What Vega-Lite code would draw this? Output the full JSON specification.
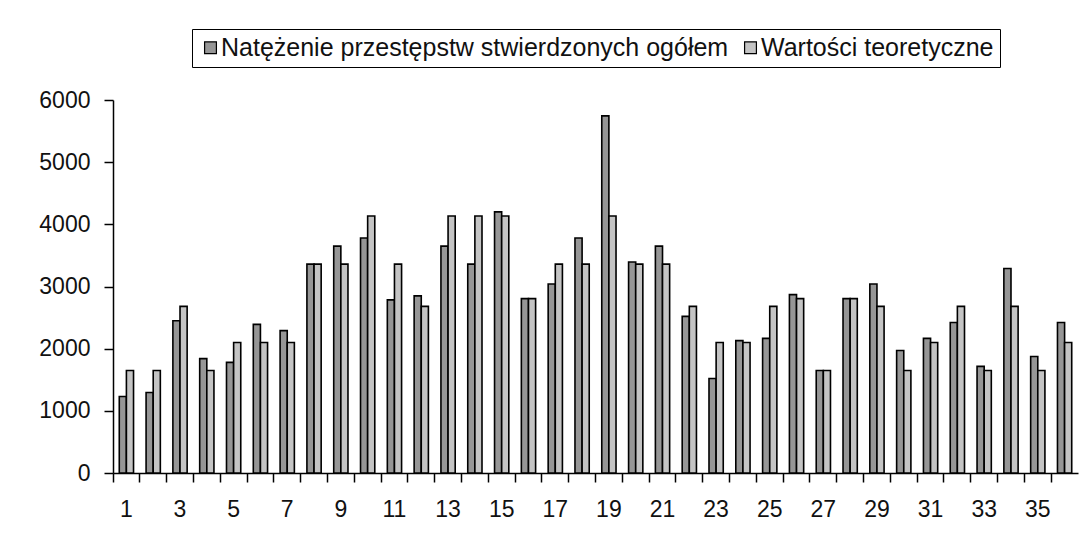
{
  "$schema": "https://vega.github.io/schema/vega-lite/v6.json",
  "autosize": "none",
  "width": 965,
  "height": 373,
  "padding": {"left": 113, "top": 100, "right": 8, "bottom": 70},
  "background": "white",
  "config": {
    "view": {"stroke": null},
    "font": "Liberation Sans",
    "axis": {"labelFont": "Liberation Sans", "labelColor": "#111", "domainColor": "black", "tickColor": "black", "domainWidth": 1.5, "tickWidth": 1.5, "grid": false, "title": null}
  },
  "data": {
    "values": [
      {"nr": 1, "seria": "Natężenie przestępstw stwierdzonych ogółem", "wartosc": 1230},
      {"nr": 1, "seria": "Wartości teoretyczne", "wartosc": 1650},
      {"nr": 2, "seria": "Natężenie przestępstw stwierdzonych ogółem", "wartosc": 1295},
      {"nr": 2, "seria": "Wartości teoretyczne", "wartosc": 1650},
      {"nr": 3, "seria": "Natężenie przestępstw stwierdzonych ogółem", "wartosc": 2450},
      {"nr": 3, "seria": "Wartości teoretyczne", "wartosc": 2680},
      {"nr": 4, "seria": "Natężenie przestępstw stwierdzonych ogółem", "wartosc": 1840},
      {"nr": 4, "seria": "Wartości teoretyczne", "wartosc": 1650},
      {"nr": 5, "seria": "Natężenie przestępstw stwierdzonych ogółem", "wartosc": 1780},
      {"nr": 5, "seria": "Wartości teoretyczne", "wartosc": 2100},
      {"nr": 6, "seria": "Natężenie przestępstw stwierdzonych ogółem", "wartosc": 2390},
      {"nr": 6, "seria": "Wartości teoretyczne", "wartosc": 2100},
      {"nr": 7, "seria": "Natężenie przestępstw stwierdzonych ogółem", "wartosc": 2290},
      {"nr": 7, "seria": "Wartości teoretyczne", "wartosc": 2100},
      {"nr": 8, "seria": "Natężenie przestępstw stwierdzonych ogółem", "wartosc": 3360},
      {"nr": 8, "seria": "Wartości teoretyczne", "wartosc": 3360},
      {"nr": 9, "seria": "Natężenie przestępstw stwierdzonych ogółem", "wartosc": 3650},
      {"nr": 9, "seria": "Wartości teoretyczne", "wartosc": 3360},
      {"nr": 10, "seria": "Natężenie przestępstw stwierdzonych ogółem", "wartosc": 3780},
      {"nr": 10, "seria": "Wartości teoretyczne", "wartosc": 4135},
      {"nr": 11, "seria": "Natężenie przestępstw stwierdzonych ogółem", "wartosc": 2785},
      {"nr": 11, "seria": "Wartości teoretyczne", "wartosc": 3360},
      {"nr": 12, "seria": "Natężenie przestępstw stwierdzonych ogółem", "wartosc": 2850},
      {"nr": 12, "seria": "Wartości teoretyczne", "wartosc": 2680},
      {"nr": 13, "seria": "Natężenie przestępstw stwierdzonych ogółem", "wartosc": 3650},
      {"nr": 13, "seria": "Wartości teoretyczne", "wartosc": 4135},
      {"nr": 14, "seria": "Natężenie przestępstw stwierdzonych ogółem", "wartosc": 3360},
      {"nr": 14, "seria": "Wartości teoretyczne", "wartosc": 4135},
      {"nr": 15, "seria": "Natężenie przestępstw stwierdzonych ogółem", "wartosc": 4200},
      {"nr": 15, "seria": "Wartości teoretyczne", "wartosc": 4135},
      {"nr": 16, "seria": "Natężenie przestępstw stwierdzonych ogółem", "wartosc": 2805},
      {"nr": 16, "seria": "Wartości teoretyczne", "wartosc": 2805},
      {"nr": 17, "seria": "Natężenie przestępstw stwierdzonych ogółem", "wartosc": 3040},
      {"nr": 17, "seria": "Wartości teoretyczne", "wartosc": 3360},
      {"nr": 18, "seria": "Natężenie przestępstw stwierdzonych ogółem", "wartosc": 3780},
      {"nr": 18, "seria": "Wartości teoretyczne", "wartosc": 3360},
      {"nr": 19, "seria": "Natężenie przestępstw stwierdzonych ogółem", "wartosc": 5745},
      {"nr": 19, "seria": "Wartości teoretyczne", "wartosc": 4135},
      {"nr": 20, "seria": "Natężenie przestępstw stwierdzonych ogółem", "wartosc": 3395},
      {"nr": 20, "seria": "Wartości teoretyczne", "wartosc": 3360},
      {"nr": 21, "seria": "Natężenie przestępstw stwierdzonych ogółem", "wartosc": 3650},
      {"nr": 21, "seria": "Wartości teoretyczne", "wartosc": 3360},
      {"nr": 22, "seria": "Natężenie przestępstw stwierdzonych ogółem", "wartosc": 2520},
      {"nr": 22, "seria": "Wartości teoretyczne", "wartosc": 2680},
      {"nr": 23, "seria": "Natężenie przestępstw stwierdzonych ogółem", "wartosc": 1520},
      {"nr": 23, "seria": "Wartości teoretyczne", "wartosc": 2100},
      {"nr": 24, "seria": "Natężenie przestępstw stwierdzonych ogółem", "wartosc": 2130},
      {"nr": 24, "seria": "Wartości teoretyczne", "wartosc": 2100},
      {"nr": 25, "seria": "Natężenie przestępstw stwierdzonych ogółem", "wartosc": 2165},
      {"nr": 25, "seria": "Wartości teoretyczne", "wartosc": 2680},
      {"nr": 26, "seria": "Natężenie przestępstw stwierdzonych ogółem", "wartosc": 2870},
      {"nr": 26, "seria": "Wartości teoretyczne", "wartosc": 2805},
      {"nr": 27, "seria": "Natężenie przestępstw stwierdzonych ogółem", "wartosc": 1650},
      {"nr": 27, "seria": "Wartości teoretyczne", "wartosc": 1650},
      {"nr": 28, "seria": "Natężenie przestępstw stwierdzonych ogółem", "wartosc": 2805},
      {"nr": 28, "seria": "Wartości teoretyczne", "wartosc": 2805},
      {"nr": 29, "seria": "Natężenie przestępstw stwierdzonych ogółem", "wartosc": 3040},
      {"nr": 29, "seria": "Wartości teoretyczne", "wartosc": 2680},
      {"nr": 30, "seria": "Natężenie przestępstw stwierdzonych ogółem", "wartosc": 1970},
      {"nr": 30, "seria": "Wartości teoretyczne", "wartosc": 1650},
      {"nr": 31, "seria": "Natężenie przestępstw stwierdzonych ogółem", "wartosc": 2165},
      {"nr": 31, "seria": "Wartości teoretyczne", "wartosc": 2100},
      {"nr": 32, "seria": "Natężenie przestępstw stwierdzonych ogółem", "wartosc": 2420},
      {"nr": 32, "seria": "Wartości teoretyczne", "wartosc": 2680},
      {"nr": 33, "seria": "Natężenie przestępstw stwierdzonych ogółem", "wartosc": 1715},
      {"nr": 33, "seria": "Wartości teoretyczne", "wartosc": 1650},
      {"nr": 34, "seria": "Natężenie przestępstw stwierdzonych ogółem", "wartosc": 3290},
      {"nr": 34, "seria": "Wartości teoretyczne", "wartosc": 2680},
      {"nr": 35, "seria": "Natężenie przestępstw stwierdzonych ogółem", "wartosc": 1875},
      {"nr": 35, "seria": "Wartości teoretyczne", "wartosc": 1650},
      {"nr": 36, "seria": "Natężenie przestępstw stwierdzonych ogółem", "wartosc": 2420},
      {"nr": 36, "seria": "Wartości teoretyczne", "wartosc": 2100}
    ]
  },
  "mark": {"type": "bar", "stroke": "black", "strokeWidth": 1.6},
  "encoding": {
    "x": {
      "field": "nr", "type": "ordinal",
      "scale": {"paddingInner": 0, "paddingOuter": 0},
      "axis": {
        "bandPosition": 0, "labelAngle": 0,
        "tickSize": 9, "labelPadding": 16, "labelFontSize": 23,
        "labelExpr": "datum.value % 2 == 1 ? datum.label : ''"
      }
    },
    "xOffset": {"field": "seria", "type": "nominal", "scale": {"paddingInner": 0, "paddingOuter": 0.88}},
    "y": {
      "field": "wartosc", "type": "quantitative",
      "scale": {"domain": [0, 6000], "nice": false},
      "axis": {"values": [0, 1000, 2000, 3000, 4000, 5000, 6000], "format": "d", "tickSize": 9, "labelPadding": 14, "labelFontSize": 23}
    },
    "color": {
      "field": "seria", "type": "nominal",
      "scale": {"range": ["#969696", "#c4c4c4"]},
      "legend": {
        "title": null, "orient": "none", "direction": "horizontal",
        "legendX": 79, "legendY": -71,
        "strokeColor": "black", "fillColor": "white", "padding": 6,
        "symbolType": "square", "symbolSize": 140, "symbolStrokeColor": "black", "symbolStrokeWidth": 1.2,
        "labelFont": "Liberation Sans", "labelFontSize": 25, "labelColor": "#111", "labelOffset": -2,
        "columnPadding": 9, "labelLimit": 0
      }
    }
  }
}
